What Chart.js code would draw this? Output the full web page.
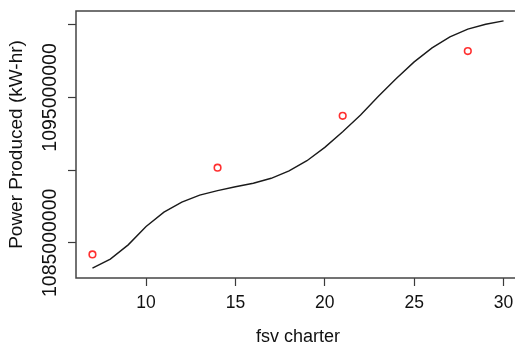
<!DOCTYPE html>
<html>
<head>
<meta charset="utf-8">
<script src="https://cdn.jsdelivr.net/npm/chart.js@4/dist/chart.umd.min.js"></script>
<style>
  html, body { margin: 0; padding: 0; background: #fff; }
  #wrap { width: 515px; height: 347px; overflow: hidden; position: relative; }
  canvas { display: block; width: 520px; height: 347px; }
</style>
</head>
<body>
<div id="wrap"><canvas id="c" width="520" height="347" style="width:520px;height:347px"></canvas></div>
<script>
// ---- data ----
const fsvCharter = [7, 8, 9, 10, 11, 12, 13, 14, 15, 16, 17, 18, 19, 20, 21, 22, 23, 24, 25, 26, 27, 28, 29, 30];
const fittedPower = [1083260000, 1083880000, 1084860000, 1086120000, 1087110000, 1087800000, 1088280000, 1088590000,
  1088860000, 1089100000, 1089440000, 1089950000, 1090650000, 1091570000, 1092640000, 1093790000,
  1095080000, 1096310000, 1097450000, 1098410000, 1099170000, 1099700000, 1100040000, 1100270000];
const obsFsv = [7, 14, 21, 28];
const obsPower = [1084200000, 1090170000, 1093740000, 1098190000];
const xTicks = [10, 15, 20, 25, 30];
const yTicks = [1085000000, 1090000000, 1095000000, 1100000000];
const yTickLabels = ['1085000000', '', '1095000000', ''];
const xTitle = 'fsv charter';
const yTitle = 'Power Produced (kW-hr)';

const FONT = '"Liberation Sans", Arial, Helvetica, sans-serif';
const AXIS = '#3a3a3a';

const boxPlugin = {
  id: 'boxAndLabels',
  afterDraw(chart) {
    const {ctx, chartArea: a} = chart;
    ctx.save();
    ctx.strokeStyle = '#444';
    ctx.lineWidth = 1.5;
    ctx.strokeRect(a.left, a.top, a.right - a.left, a.bottom - a.top);
    // rotated y tick labels (R style, parallel to axis)
    const ys = chart.scales.y;
    ctx.fillStyle = '#111';
    ctx.font = '19.5px ' + FONT;
    ctx.textAlign = 'center';
    ctx.textBaseline = 'alphabetic';
    yTicks.forEach((v, i) => {
      const lab = yTickLabels[i];
      if (!lab) return;
      const py = ys.getPixelForValue(v);
      ctx.save();
      ctx.translate(56, py);
      ctx.rotate(-Math.PI / 2);
      ctx.fillText(lab, 0, 0);
      ctx.restore();
    });
    ctx.restore();
  }
};

new Chart(document.getElementById('c'), {
  type: 'scatter',
  data: {
    datasets: [
      {
        type: 'line',
        data: fsvCharter.map((x, i) => ({x: x, y: fittedPower[i]})),
        borderColor: '#1a1a1a',
        borderWidth: 1.4,
        pointRadius: 0,
        tension: 0,
        fill: false
      },
      {
        type: 'scatter',
        data: obsFsv.map((x, i) => ({x: x, y: obsPower[i]})),
        borderColor: '#ff3030',
        backgroundColor: 'rgba(0,0,0,0)',
        borderWidth: 1.6,
        pointRadius: 3.3,
        pointHoverRadius: 3.3
      }
    ]
  },
  options: {
    responsive: false,
    animation: false,
    events: [],
    layout: { autoPadding: false, padding: { top: 11, right: 0, left: 0, bottom: 0 } },
    plugins: { legend: { display: false }, tooltip: { enabled: false } },
    scales: {
      x: {
        type: 'linear',
        position: 'bottom',
        min: 6.08,
        max: 30.92,
        afterBuildTicks: (s) => { s.ticks = xTicks.map(v => ({value: v})); },
        afterFit: (s) => { s.height = 69; s.paddingLeft = 0; s.paddingRight = 0; },
        grid: { display: true, drawOnChartArea: false, drawTicks: true, tickLength: 8, color: AXIS, tickColor: AXIS, tickWidth: 1.2 },
        border: { display: false },
        ticks: { font: { family: FONT, size: 17.5 }, color: '#111', padding: 7, maxRotation: 0, minRotation: 0, autoSkip: false },
        title: { display: true, text: xTitle, font: { family: FONT, size: 18, lineHeight: 1.1 }, color: '#111', padding: 0 }
      },
      y: {
        type: 'linear',
        position: 'left',
        min: 1082580000,
        max: 1100950000,
        afterBuildTicks: (s) => { s.ticks = yTicks.map(v => ({value: v})); },
        afterFit: (s) => { s.width = 76; s.paddingTop = 0; s.paddingBottom = 0; },
        grid: { display: true, drawOnChartArea: false, drawTicks: true, tickLength: 8, color: AXIS, tickColor: AXIS, tickWidth: 1.2 },
        border: { display: false },
        ticks: { display: false },
        title: { display: true, text: yTitle, font: { family: FONT, size: 19, lineHeight: 1.2 }, color: '#111', padding: { top: 5, bottom: 0 } }
      }
    }
  },
  plugins: [boxPlugin]
});
</script>
</body>
</html>
